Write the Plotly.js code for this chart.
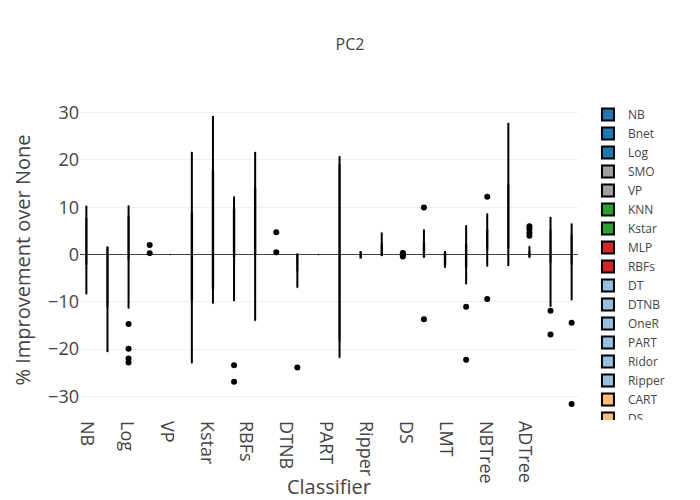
<!DOCTYPE html>
<html>
<head>
<meta charset="utf-8">
<script src="https://cdn.plot.ly/plotly-3.0.1.min.js"></script>
<style>
html,body{margin:0;padding:0;background:#fff;}
.legend .scrollbar{display:none;}
</style>
</head>
<body>
<div id="chart" style="width:700px;height:500px;"></div>
<script>
// Classifier names (category order = legend order)
const classifiers = ["NB","Bnet","Log","SMO","VP","KNN","Kstar","MLP","RBFs","DT","DTNB","OneR",
  "PART","Ridor","Ripper","CART","DS","J48","LMT","RF","NBTree","RT","ADTree","Bag"];

// Tick labels shown under the axis (every other classifier)
const tickLabels = ["NB","Log","VP","Kstar","RBFs","DTNB","PART","Ripper","DS","LMT","NBTree","ADTree"];

// % improvement over None, per classifier
const NB     = [-8.4,-6.0,-4.0,-2.0,-2.0,-1.0,0.5,2.0,2.0,3.5,5.0,7.5,7.5,8.5,9.5,10.3];
const Bnet   = [-20.6,-17.0,-13.5,-11.0,-11.0,-8.0,-5.5,-3.0,-3.0,-1.5,0.0,1.5,1.5,1.5,1.5,1.5];
const Log    = [-22.8,-22.0,-19.9,-14.7,-11.4,-1.0,-1.0,0,0.5,1.0,1.5,2.0,2.0,3,4,5,6.5,8.0,8.0,8.5,9,9.5,10,10.35];
const SMO    = [0,0,0,0,0,0,0,0,0,0,0,0,0,0,0.3,2.0];
const VP     = [0,0,0,0,0,0,0,0,0,0,0,0,0,0,0,0];
const KNN    = [-23.0,-18.0,-13.0,-9.5,-9.5,-6.0,-3.0,0.0,0.0,2.0,5.0,8.7,8.7,13.0,17.0,21.7];
const Kstar  = [-10.35,-9.0,-8.0,-7.2,-7.2,-3.0,1.0,5.0,5.0,9.0,13.0,17.5,17.5,21.0,25.0,29.3];
const MLP    = [-26.9,-23.4,-9.8,-0.3,-0.3,0.5,1.5,3.0,3.0,5.0,7.0,9.5,9.5,10.5,11.5,12.3];
const RBFs   = [-14.0,-8.0,-3.0,0.2,0.2,2.0,4.0,6.0,6.0,8.0,11.0,13.9,13.9,16.0,19.0,21.7];
const DT     = [0,0,0,0,0,0,0,0,0,0,0,0,0,0,0.5,4.7];
const DTNB   = [-23.9,-7.0,-5.0,-3.3,-3.3,-2.5,-1.5,-1.0,-1.0,-0.5,-0.2,0,0,0,0,0];
const OneR   = [0,0,0,0,0,0,0,0,0,0,0,0,0,0,0,0];
const PART   = [-21.8,-20.0,-19.0,-18.1,-18.1,-12.0,-6.0,0.0,0.0,5.0,12.0,19.0,19.0,19.5,20.2,20.8];
const Ridor  = [-0.7,-0.65,-0.6,-0.6,-0.6,-0.4,-0.2,0,0,0.2,0.3,0.5,0.5,0.5,0.55,0.56];
const Ripper = [-0.3,-0.2,-0.1,0,0,0,0,0.5,0.5,1.0,1.5,2.3,2.3,3.0,4.0,4.65];
const CART   = [-0.4,-0.2,0,0,0,0,0,0,0,0,0,0,0,0,0.15,0.35];
const DS     = [-13.66,-0.7,-0.5,-0.3,-0.3,0,0.2,0.5,0.5,1.0,1.5,2.3,2.3,3.5,5.3,9.93];
const J48    = [-2.8,-2.5,-2.2,-2.0,-2.0,-1.5,-1.0,-0.5,-0.5,-0.2,0,0.3,0.3,0.5,0.6,0.77];
const LMT    = [-22.25,-11.06,-6.3,-2.5,-2.5,-1.5,-0.5,0,0,0.5,1.0,2.0,2.0,3.5,5.0,6.2];
const RF     = [-9.4,-2.5,0,1.3,1.3,2.0,2.5,3.0,3.0,3.5,4.3,5.1,5.1,6.5,8.66,12.2];
const NBTree = [-2.4,-1.0,0.5,1.4,1.4,3.0,5.0,7.0,7.0,9.0,12.0,14.6,14.6,19.0,23.0,27.8];
const RT     = [-0.7,-0.6,-0.5,-0.4,-0.35,-0.3,-0.3,-0.2,-0.1,0,0,0.1,0.1,0.2,0.3,0.4,0.5,0.6,0.6,1.76,4.0,4.6,5.4,6.0];
const ADTree = [-16.9,-11.9,-11.06,-1.5,-1.5,0,0.5,1.0,1.0,2.0,3.5,5.1,5.1,6.0,7.0,7.96];
const Bag    = [-31.6,-14.4,-9.65,-2.0,-2.0,-1.0,0,0.5,0.5,1.5,3.0,4.0,4.0,5.0,6.0,6.55];

const seriesValues = [NB,Bnet,Log,SMO,VP,KNN,Kstar,MLP,RBFs,DT,DTNB,OneR,
  PART,Ridor,Ripper,CART,DS,J48,LMT,RF,NBTree,RT,ADTree,Bag];

// Fill colour by classifier family
const fillColors = ["#1f77b4","#1f77b4","#1f77b4","#a0a0a0","#a0a0a0","#2ca02c","#2ca02c",
  "#d62728","#d62728","#94bfe0","#94bfe0","#94bfe0","#94bfe0","#94bfe0","#94bfe0",
  "#ffbb78","#ffbb78","#ffbb78","#ffbb78","#ffbb78","#ffbb78","#ffbb78","#9467bd","#9467bd"];

const traces = classifiers.map((name, i) => ({
  type: "box",
  name: name,
  x: seriesValues[i].map(() => name),
  y: seriesValues[i],
  fillcolor: fillColors[i],
  line: {color: "#000000", width: 2},
  marker: {color: "#000000", size: 6},
  boxpoints: "outliers"
}));

// Empty helper trace so that the label axis (x2) is drawn; it has no marks.
traces.push({
  type: "scatter",
  mode: "markers",
  x: [],
  y: [],
  xaxis: "x2",
  yaxis: "y",
  showlegend: false,
  hoverinfo: "skip"
});

const tickFont = {size: 18, color: "#444"};

const layout = {
  width: 700,
  height: 500,
  margin: {l: 80, r: 122, t: 100, b: 80},
  font: {family: '"Open Sans", verdana, arial, sans-serif', color: "#444", size: 12},
  title: {text: "PC2", font: {size: 16}},
  boxmode: "group",
  boxgap: 0.3,
  xaxis: {
    type: "category",
    showticklabels: false,
    showgrid: false,
    zeroline: false,
    ticks: ""
  },
  xaxis2: {
    overlaying: "x",
    anchor: "y",
    side: "bottom",
    type: "linear",
    range: [-0.35, 24.65],
    autorange: false,
    tickmode: "array",
    tickvals: tickLabels.map(l => classifiers.indexOf(l)),
    ticktext: tickLabels,
    tickangle: 90,
    tickfont: tickFont,
    showgrid: false,
    zeroline: false,
    title: {text: "Classifier", font: {size: 20}}
  },
  yaxis: {
    title: {text: "% Improvement over None", font: {size: 20}},
    tickfont: tickFont,
    gridcolor: "#eee",
    zeroline: true,
    zerolinecolor: "#444",
    zerolinewidth: 1
  },
  legend: {font: {size: 12}},
  paper_bgcolor: "#fff",
  plot_bgcolor: "#fff"
};

Plotly.newPlot("chart", traces, layout, {displayModeBar: false});
</script>
</body>
</html>
